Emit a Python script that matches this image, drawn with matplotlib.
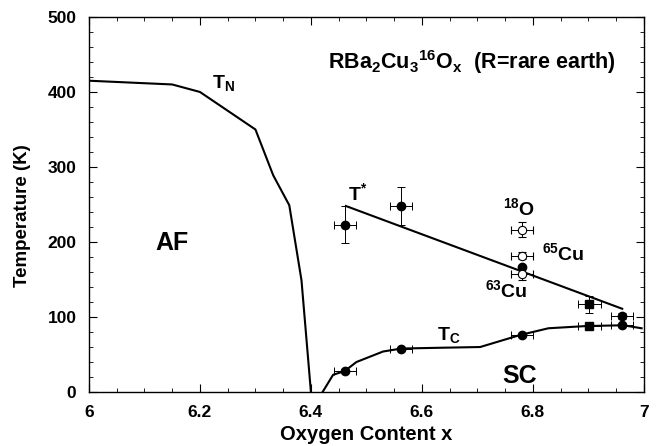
import numpy as np
import matplotlib
matplotlib.use('Agg')
import matplotlib.pyplot as plt
from matplotlib.ticker import MultipleLocator

plt.rcParams['font.family'] = ['Liberation Sans', 'DejaVu Sans']
plt.rcParams['font.weight'] = 'bold'
plt.rcParams['mathtext.fontset'] = 'custom'
plt.rcParams['mathtext.rm'] = 'Liberation Sans:bold'
plt.rcParams['mathtext.it'] = 'Liberation Sans:bold'
plt.rcParams['mathtext.bf'] = 'Liberation Sans:bold'
plt.rcParams['mathtext.default'] = 'bf'

# phase boundary lines
tn_x = [6.0, 6.15, 6.2, 6.3, 6.332, 6.361, 6.383, 6.40]
tn_y = [415, 410, 400, 350, 289, 249, 149, 0]

tc_x = [6.421, 6.44, 6.461, 6.482, 6.53, 6.563, 6.632, 6.705, 6.777, 6.828, 6.897, 6.963, 6.996]
tc_y = [0, 23, 28, 40, 54, 58, 59, 60, 76, 85, 88, 89, 85]

tstar_x = [6.463, 6.961]
tstar_y = [248, 111]

# filled circles (x, T, xerr, yerr)
fc_x = [6.462, 6.563, 6.781, 6.961, 6.461, 6.563, 6.781, 6.961]
fc_y = [223, 248, 167, 102, 28, 58, 76, 89]
fc_xerr = [0.02, 0.02, 0.0, 0.02, 0.02, 0.02, 0.02, 0.02]
fc_yerr = [25, 25, 0, 4, 0, 0, 0, 0]

# filled squares
fs_x = [6.902, 6.902]
fs_y = [117, 88]
fs_xerr = [0.02, 0.02]
fs_yerr = [11, 0]

# open circles (isotope substituted)
oc_x = [6.781, 6.781, 6.781]
oc_y = [216, 182, 158]
oc_xerr = [0.02, 0.02, 0.02]
oc_yerr = [10, 5, 9]

fig = plt.figure(figsize=(6.59, 4.46), dpi=100)
ax = fig.add_axes([0.135, 0.121, 0.842, 0.841])

ax.plot(tn_x, tn_y, 'k-', lw=1.5)
ax.plot(tc_x, tc_y, 'k-', lw=1.5)
ax.plot(tstar_x, tstar_y, 'k-', lw=1.5)

ekw = dict(ecolor='k', elinewidth=0.7, capsize=3, capthick=0.7, ls='none')
ax.errorbar(fc_x, fc_y, xerr=fc_xerr, yerr=fc_yerr, fmt='o', mfc='k', mec='k', ms=6, **ekw)
ax.errorbar(fs_x, fs_y, xerr=fs_xerr, yerr=fs_yerr, fmt='s', mfc='k', mec='k', ms=6, **ekw)
ax.errorbar(oc_x, oc_y, xerr=oc_xerr, yerr=oc_yerr, fmt='o', mfc='white', mec='k', mew=0.8, ms=6, **ekw)

ax.set_xlim(6, 7)
ax.set_ylim(0, 500)
ax.xaxis.set_major_locator(MultipleLocator(0.2))
ax.xaxis.set_minor_locator(MultipleLocator(0.05))
ax.yaxis.set_major_locator(MultipleLocator(100))
ax.yaxis.set_minor_locator(MultipleLocator(20))
ax.tick_params(which='both', direction='in', top=True, right=True)
ax.tick_params(which='major', length=6, labelsize=12.5, pad=9)
ax.tick_params(which='minor', length=3)
ax.set_xticks([6, 6.2, 6.4, 6.6, 6.8, 7])
ax.set_xticklabels(['6', '6.2', '6.4', '6.6', '6.8', '7'])
for sp in ax.spines.values():
    sp.set_linewidth(1.0)

ax.set_xlabel('Oxygen Content x', fontsize=14.5, fontweight='bold', labelpad=4)
ax.set_ylabel('Temperature (K)', fontsize=13.5, fontweight='bold')
ax.yaxis.set_label_coords(-0.105, 0.47)

ax.text(6.222, 405, r'T$_{\rm N}$', fontsize=14)
ax.text(6.467, 256, r'T$^{*}$', fontsize=14)
ax.text(6.627, 70, r'T$_{\rm C}$', fontsize=14)
ax.text(6.12, 190, 'AF', fontsize=18)
ax.text(6.745, 12, 'SC', fontsize=18)
ax.text(6.746, 236, r'$^{18}$O', fontsize=14)
ax.text(6.816, 176, r'$^{65}$Cu', fontsize=14)
ax.text(6.714, 126, r'$^{63}$Cu', fontsize=14)
ax.text(6.43, 430, r'RBa$_2$Cu$_3$$^{16}$O$_{\rm x}$  (R=rare earth)', fontsize=15.5)

fig.savefig('out.png', dpi=100)
